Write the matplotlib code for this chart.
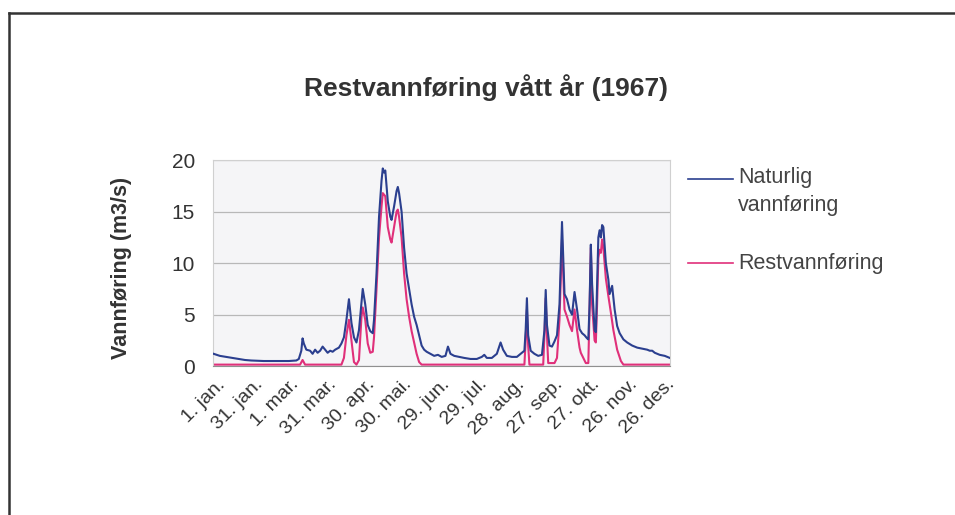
import numpy as np
import matplotlib
matplotlib.use("Agg")
import matplotlib.pyplot as plt
import matplotlib.transforms as mtransforms
from matplotlib.lines import Line2D

# dag i året (0 = 1. jan.) og avlest vannføring (m3/s)
nat_dag = [0, 5, 10, 15, 20, 25, 30, 40, 50, 60, 66, 68, 70, 71, 72, 74, 77, 79, 81, 83,
           85, 87, 89, 91, 93, 95, 97, 100, 102, 104, 106, 108, 110, 112, 114, 116, 118, 119,
           121, 123, 125, 127, 128, 130, 132, 134, 135, 136, 137, 139, 141, 142, 144, 146, 147,
           148, 150, 152, 154, 156, 158, 160, 162, 164, 166, 168, 170, 173, 176, 179, 182, 185,
           187, 189, 192, 196, 200, 205, 210, 214, 216, 218, 222, 226, 229, 231, 234, 238, 242,
           245, 248, 249, 250, 251, 253, 256, 259, 262, 264, 265, 266, 268, 270, 272, 274, 276,
           278, 279, 280, 282, 284, 286, 288, 290, 292, 294, 296, 298, 299, 300, 301, 302, 304,
           305, 306, 307, 308, 309, 310, 311, 313, 315, 316, 318, 320, 322, 324, 327, 330, 334,
           338, 342, 346, 348, 350, 352, 356, 360, 364]
naturlig = [1.2, 1.0, 0.9, 0.8, 0.7, 0.6, 0.55, 0.5, 0.5, 0.5, 0.55, 0.7, 1.5, 2.7, 2.2, 1.6, 1.5,
            1.2, 1.6, 1.3, 1.5, 1.9, 1.6, 1.3, 1.5, 1.4, 1.6, 1.8, 2.2, 2.8, 4.5, 6.5, 4.2, 2.8,
            2.3, 3.5, 6.2, 7.5, 6.0, 4.0, 3.4, 3.2, 4.5, 9.0, 14.5, 18.0, 19.2, 18.8, 19.0, 16.0,
            14.5, 14.2, 15.5, 17.0, 17.4, 16.8, 15.0, 11.5, 9.0, 7.5, 6.0, 4.8, 4.0, 3.0, 2.0,
            1.6, 1.4, 1.2, 1.0, 1.1, 0.9, 1.0, 1.9, 1.2, 1.0, 0.9, 0.8, 0.7, 0.7, 0.9, 1.1, 0.8,
            0.8, 1.2, 2.3, 1.6, 1.0, 0.9, 0.9, 1.2, 1.5, 3.5, 6.6, 3.0, 1.5, 1.2, 1.0, 1.1, 3.5,
            7.4, 4.0, 2.0, 1.9, 2.4, 3.0, 6.0, 14.0, 10.5, 7.0, 6.5, 5.5, 5.0, 7.2, 5.5, 3.6, 3.2,
            3.0, 2.7, 2.6, 6.0, 11.8, 8.0, 3.5, 3.3, 8.0, 12.5, 13.2, 12.5, 13.7, 13.5, 10.0, 8.4,
            7.0, 7.8, 5.5, 3.9, 3.2, 2.6, 2.3, 2.0, 1.8, 1.7, 1.6, 1.5, 1.5, 1.3, 1.1, 1.0, 0.8]

rest_dag = [0, 69, 71, 73, 102, 104, 106, 108, 110, 112, 114, 116, 118, 119, 121, 123, 125, 127,
            128, 130, 132, 134, 135, 137, 139, 141, 142, 144, 146, 147, 148, 150, 152, 154, 156,
            158, 160, 162, 164, 166, 248, 249, 250, 251, 252, 263, 264, 265, 266, 267, 272, 274,
            276, 278, 279, 280, 282, 284, 286, 288, 290, 292, 293, 295, 297, 299, 300, 301, 302,
            304, 305, 306, 307, 308, 309, 310, 311, 313, 315, 317, 319, 322, 325, 327, 364]
restvann = [0.15, 0.15, 0.6, 0.15, 0.15, 0.8, 3.0, 4.5, 2.5, 0.4, 0.15, 0.6, 4.8, 5.7, 4.5, 2.2,
            1.3, 1.4, 2.8, 7.5, 12.5, 15.5, 16.8, 16.5, 13.5, 12.3, 12.0, 13.5, 15.0, 15.2, 14.5,
            12.5, 9.0, 6.5, 4.8, 3.4, 2.3, 1.2, 0.4, 0.15, 0.15, 2.5, 5.5, 2.0, 0.15, 0.15, 3.0,
            6.6, 3.0, 0.3, 0.3, 0.8, 4.5, 12.3, 9.0, 5.5, 4.8, 4.0, 3.4, 5.5, 3.5, 1.8, 1.3, 0.8,
            0.3, 0.3, 5.5, 11.5, 6.0, 2.5, 2.3, 6.0, 10.5, 11.3, 11.0, 12.3, 11.5, 8.5, 6.8, 5.2,
            3.5, 1.6, 0.5, 0.15, 0.15]

tick_dag = [0, 30, 59, 89, 119, 149, 179, 209, 239, 269, 299, 329, 359]
tick_tekst = ["1. jan.", "31. jan.", "1. mar.", "31. mar.", "30. apr.", "30. mai.", "29. jun.",
              "29. jul.", "28. aug.", "27. sep.", "27. okt.", "26. nov.", "26. des."]

plt.rcParams['font.family'] = ['Liberation Sans', 'DejaVu Sans']

fig = plt.figure(figsize=(9.55, 5.15), dpi=100)
fig.patch.set_facecolor('white')
ax = fig.add_axes([0.223, 0.289, 0.479, 0.400])
ax.set_facecolor('#f5f5f7')

ax.plot(nat_dag, naturlig, color='#2b3f8f', lw=1.5, zorder=3)
ax.plot(rest_dag, restvann, color='#e0307a', lw=1.5, zorder=2)

ax.set_xlim(-0.5, 364.5)
ax.set_ylim(0, 20)
ax.set_yticks([0, 5, 10, 15, 20])
ax.yaxis.grid(True, color='#b8b8b8', lw=0.9)
ax.tick_params(axis='y', length=0, labelsize=15, pad=13, labelcolor='#333333')
ax.set_xticks(tick_dag)
ax.set_xticklabels(tick_tekst, rotation=45, ha='right', rotation_mode='anchor',
                   fontsize=14, color='#333333')
ax.tick_params(axis='x', length=0, pad=7)
off = mtransforms.ScaledTranslation(3 / 100, 0, fig.dpi_scale_trans)
for lbl in ax.get_xticklabels():
    lbl.set_transform(lbl.get_transform() + off)
for s in ['top', 'right', 'left']:
    ax.spines[s].set_color('#d0d0d0')
    ax.spines[s].set_linewidth(0.8)
ax.spines['bottom'].set_color('#909090')

ax.set_ylabel('Vannføring (m3/s)', fontsize=15.5, fontweight='bold', color='#333333')
ax.yaxis.set_label_coords(-0.178, 0.476)
fig.text(0.509, 0.830, 'Restvannføring vått år (1967)', ha='center', va='center',
         fontsize=19, fontweight='bold', color='#333333')

# forklaring
fig.add_artist(Line2D([0.720, 0.768], [0.653, 0.653], color='#2b3f8f', lw=1.2))
fig.text(0.773, 0.655, 'Naturlig', fontsize=15.5, va='center', color='#444444')
fig.text(0.773, 0.601, 'vannføring', fontsize=15.5, va='center', color='#444444')
fig.add_artist(Line2D([0.720, 0.768], [0.489, 0.489], color='#e0307a', lw=1.2))
fig.text(0.773, 0.489, 'Restvannføring', fontsize=15.5, va='center', color='#444444')

# ramme rundt
fig.add_artist(Line2D([0.009, 0.009], [0.0, 0.975], color='#333333', lw=1.8))
fig.add_artist(Line2D([0.009, 1.0], [0.975, 0.975], color='#333333', lw=1.8))

fig.savefig('out.png', dpi=100)
